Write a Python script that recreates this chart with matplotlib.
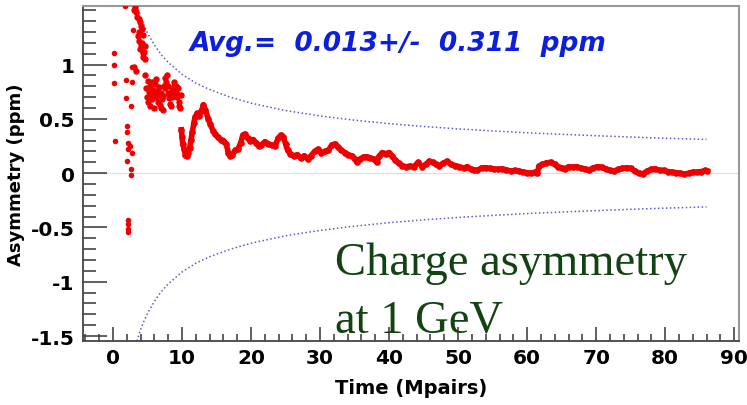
import matplotlib
matplotlib.use("Agg")
import matplotlib.pyplot as plt
from matplotlib.ticker import FixedLocator, FixedFormatter, MultipleLocator

plt.rcParams['font.family'] = ['DejaVu Sans']
plt.rcParams['axes.unicode_minus'] = False

# early scattered points (first Mpairs)
early_x = [0.2, 0.2, 0.2, 0.3, 1.7, 1.9, 1.9, 2.0, 2.0, 2.1, 2.1, 2.0, 2.6, 2.6,
           2.7, 2.7, 2.6, 2.9, 2.5, 2.7, 2.2, 2.2, 2.2, 2.2]
early_y = [1.11, 1.00, 0.83, 0.30, 1.54, 0.86, 0.69, 0.43, 0.38, 0.28, 0.22, 0.11,
           0.04, -0.02, 0.98, 0.84, 0.62, 1.32, 0.25, 0.19, -0.43, -0.47, -0.51, -0.54]

# cluster near 3-5 Mpairs
blob1_x = [3.1, 3.2, 3.4, 3.5, 3.7, 3.9, 4.2, 3.8, 4.4, 3.7, 4.2, 4.6, 3.9, 4.4,
           4.3, 4.6, 3.0, 3.3, 3.6, 4.0, 4.1, 4.5]
blob1_y = [1.50, 1.53, 1.48, 1.44, 1.42, 1.39, 1.33, 1.30, 1.27, 1.22, 1.20, 1.17,
           1.14, 1.11, 1.07, 1.05, 0.98, 0.94, 1.26, 1.18, 1.36, 1.12]

# cluster 5-10 Mpairs
blob2_x = [4.7, 4.8, 4.9, 5.0, 5.1, 5.2, 5.3, 5.4, 5.5, 5.6, 5.7, 5.8, 5.9, 6.0,
           6.1, 6.2, 6.3, 6.4, 6.5, 6.6, 6.7, 6.8, 6.9, 7.0, 7.1, 7.2, 7.3, 7.4,
           7.5, 7.6, 7.7, 7.8, 7.9, 8.0, 8.1, 8.2, 8.3, 8.4, 8.5, 8.6, 8.7, 8.8,
           8.9, 9.0, 9.1, 9.2, 9.3, 9.4, 9.5, 9.6, 9.7, 9.8]
blob2_y = [0.90, 0.78, 0.70, 0.85, 0.66, 0.75, 0.80, 0.62, 0.72, 0.84, 0.68, 0.77,
           0.60, 0.73, 0.82, 0.70, 0.87, 0.76, 0.66, 0.79, 0.72, 0.63, 0.74, 0.60,
           0.68, 0.58, 0.71, 0.80, 0.88, 0.78, 0.84, 0.90, 0.74, 0.80, 0.69, 0.64,
           0.73, 0.62, 0.70, 0.77, 0.72, 0.80, 0.84, 0.76, 0.80, 0.73, 0.70, 0.78,
           0.66, 0.62, 0.60, 0.72]

# running average after 10 Mpairs
run_x = [9.9, 10.0, 10.1, 10.3, 10.5, 10.7, 10.9, 11.1, 11.3, 11.5, 11.7, 11.9,
         12.2, 12.5, 12.8, 13.1, 13.4, 13.8, 14.1, 14.5, 14.8, 15.2, 15.6, 16.0,
         16.4, 16.7, 17.0, 17.3, 17.7, 18.1, 18.5, 18.8, 19.1, 19.5, 19.9, 20.3,
         20.7, 21.1, 21.5, 22.0, 22.5, 23.0, 23.5, 23.9, 24.3, 24.7, 25.0, 25.3,
         25.7, 26.2, 26.7, 27.2, 27.7, 28.2, 28.7, 29.2, 29.7, 30.2, 30.7, 31.2,
         31.7, 32.2, 32.6, 33.1, 33.6, 34.1, 34.6, 35.0, 35.4, 35.8, 36.3, 36.8,
         37.3, 37.8, 38.2, 38.6, 39.0, 39.5, 40.0, 40.4, 40.9, 41.4, 41.9, 42.4,
         43.0, 43.6, 44.2, 44.8, 45.3, 45.8, 46.3, 46.8, 47.3, 47.8, 48.4, 49.0,
         49.6, 50.2, 50.8, 51.3, 51.8, 52.3, 52.8, 53.4, 54.0, 54.6, 55.2, 55.8,
         56.4, 57.0, 57.6, 58.2, 58.8, 59.4, 60.0, 60.6, 61.2, 61.5, 61.7, 62.2,
         62.8, 63.4, 64.0, 64.5, 65.0, 65.5, 66.0, 66.6, 67.2, 67.8, 68.4, 69.0,
         69.6, 70.2, 70.8, 71.4, 72.0, 72.6, 73.2, 73.8, 74.4, 75.0, 75.6, 76.2,
         76.8, 77.4, 78.0, 78.6, 79.2, 79.8, 80.4, 81.0, 81.6, 82.2, 82.8, 83.4,
         84.0, 84.6, 85.2, 85.8, 86.1]
run_y = [0.40, 0.33, 0.27, 0.22, 0.17, 0.16, 0.19, 0.23, 0.31, 0.38, 0.46, 0.52,
         0.55, 0.53, 0.57, 0.63, 0.58, 0.50, 0.45, 0.39, 0.36, 0.33, 0.31, 0.30,
         0.27, 0.19, 0.16, 0.17, 0.21, 0.22, 0.28, 0.35, 0.36, 0.32, 0.30, 0.31,
         0.28, 0.25, 0.26, 0.29, 0.27, 0.26, 0.25, 0.32, 0.35, 0.33, 0.27, 0.21,
         0.18, 0.16, 0.17, 0.14, 0.16, 0.13, 0.16, 0.20, 0.22, 0.19, 0.20, 0.21,
         0.26, 0.27, 0.24, 0.21, 0.19, 0.17, 0.16, 0.13, 0.10, 0.13, 0.15, 0.15,
         0.14, 0.13, 0.10, 0.16, 0.19, 0.18, 0.19, 0.16, 0.12, 0.09, 0.07, 0.06,
         0.065, 0.06, 0.10, 0.06, 0.08, 0.11, 0.10, 0.08, 0.07, 0.09, 0.11, 0.08,
         0.07, 0.06, 0.045, 0.06, 0.04, 0.03, 0.025, 0.05, 0.05, 0.045, 0.04, 0.035,
         0.04, 0.03, 0.02, 0.025, 0.02, 0.01, 0.005, 0.0, 0.01, 0.005, 0.065, 0.08,
         0.095, 0.10, 0.08, 0.06, 0.05, 0.04, 0.06, 0.055, 0.06, 0.045, 0.04, 0.03,
         0.05, 0.06, 0.055, 0.04, 0.025, 0.02, 0.035, 0.045, 0.05, 0.045, 0.02, 0.0,
         -0.005, 0.02, 0.035, 0.04, 0.025, 0.025, 0.015, 0.01, 0.005, 0.0, -0.01, 0.0,
         0.01, 0.01, 0.015, 0.025, 0.02]

# statistical error envelope (upper half, lower is mirrored)
env_x = [3.3, 4, 4.5, 5, 6, 7, 8, 10, 12, 14, 17, 20, 25, 30, 35, 40, 45, 50,
         55, 60, 65, 70, 75, 80, 86]
env_y = [1.58, 1.44, 1.36, 1.29, 1.18, 1.09, 1.02, 0.91, 0.83, 0.77, 0.70, 0.645,
         0.577, 0.527, 0.488, 0.456, 0.430, 0.408, 0.389, 0.372, 0.358, 0.345,
         0.333, 0.322, 0.311]

xticks = [0, 10, 20, 30, 40, 50, 60, 70, 80, 90]
yticks = [-1.5, -1.0, -0.5, 0.0, 0.5, 1.0]
ylabels = ["-1.5", "-1", "-0.5", "0", "0.5", "1"]

fig = plt.figure(figsize=(7.47, 4.06), dpi=100)
ax = fig.add_axes([0.1111, 0.1576, 0.8782, 0.8252])

ax.axhline(0, color='#dddddd', lw=0.8, zorder=1)

env_lo = [-v for v in env_y]
ax.plot(env_x, env_y, color='#5a5ad8', lw=1.1, linestyle=(0, (1, 1.6)), zorder=2)
ax.plot(env_x, env_lo, color='#5a5ad8', lw=1.1, linestyle=(0, (1, 1.6)), zorder=2)

red = '#ee0000'
ax.plot(early_x, early_y, 'o', color=red, ms=4, mec='none', zorder=3)
ax.plot(blob1_x, blob1_y, 'o', color=red, ms=4.6, mec='none', zorder=3)
ax.plot(blob2_x, blob2_y, 'o', color=red, ms=4.6, mec='none', zorder=3)
ax.plot(run_x, run_y, '-', color=red, lw=4, zorder=3)
ax.plot(run_x, run_y, 'o', color=red, ms=4.8, mec='none', zorder=3)

ax.set_xlim(-4.35, 90.7)
ax.set_ylim(-1.546, 1.54)

ax.xaxis.set_major_locator(FixedLocator(xticks))
ax.xaxis.set_minor_locator(MultipleLocator(2))
ax.yaxis.set_major_locator(FixedLocator(yticks))
ax.yaxis.set_major_formatter(FixedFormatter(ylabels))
ax.yaxis.set_minor_locator(MultipleLocator(0.1))

ax.tick_params(axis='both', which='both', direction='in', color='#444444',
               width=1.2, top=False, right=False)
ax.tick_params(axis='y', which='major', length=17, pad=6)
ax.tick_params(axis='y', which='minor', length=9)
ax.tick_params(axis='x', which='major', length=10, pad=5)
ax.tick_params(axis='x', which='minor', length=5)
for lab in ax.get_xticklabels() + ax.get_yticklabels():
    lab.set_fontsize(14.5)
    lab.set_fontweight('bold')

for side in ['left', 'bottom']:
    ax.spines[side].set_color('#444444')
    ax.spines[side].set_linewidth(1.3)
for side in ['top', 'right']:
    ax.spines[side].set_color('#999999')
    ax.spines[side].set_linewidth(1.5)

ax.set_xlabel("Time (Mpairs)", fontsize=14, fontweight='bold', labelpad=8)
ax.set_ylabel("Asymmetry (ppm)", fontsize=13, fontweight='bold', labelpad=4)

ax.text(11.1, 1.2, "Avg.=  0.013+/-  0.311  ppm", color='#0b1fdc', fontsize=19,
        fontweight='bold', fontstyle='italic', va='center', ha='left')

ax.text(32.2, -0.93, "Charge asymmetry", color='#134313', fontsize=33.5,
        family=['Liberation Serif'], va='baseline', ha='left', clip_on=False)
ax.text(32.2, -1.456, "at 1 GeV", color='#134313', fontsize=33.5,
        family=['Liberation Serif'], va='baseline', ha='left', clip_on=False)

fig.savefig("out.png", dpi=100)
